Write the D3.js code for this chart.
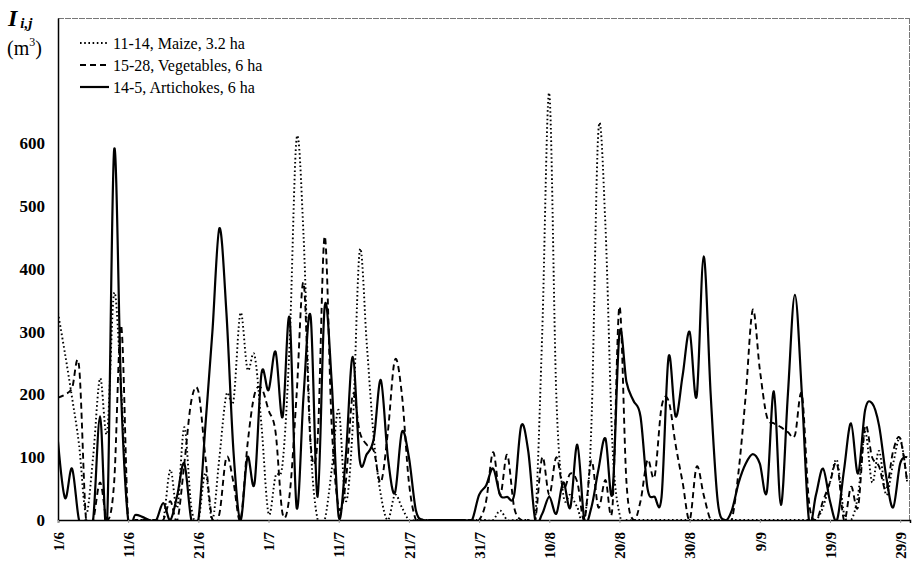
<!DOCTYPE html>
<html>
<head>
<meta charset="utf-8">
<script src="https://cdn.jsdelivr.net/npm/d3@7"></script>
<style>
  body { margin: 0; background: #fff; }
</style>
</head>
<body>
<div id="my_dataviz"></div>
<script>
// date labels every 10 days, first day is 1/6
const tickLabels = ["1/6", "11/6", "21/6", "1/7", "11/7", "21/7", "31/7", "10/8", "20/8", "30/8", "9/9", "19/9", "29/9"];
const yTicks = [0, 100, 200, 300, 400, 500, 600];

// daily volumes (m3), 1/6 .. 30/9
const maize = [
  330, 265, 195, 120, 10, 100, 226, 139, 362, 207,
  0, 0, 0, 0, 0, 0, 80, 20, 148, 20,
  0, 75, 0, 100, 200, 190, 330, 240, 263, 150,
  10, 70, 90, 280, 608, 450, 120, 0, 0, 80,
  175, 30, 150, 430, 280, 130, 40, 0, 40, 20,
  0, 0, 0, 0, 0, 0, 0, 0, 0, 0,
  0, 0, 0, 15, 0, 0, 0, 0, 0, 300,
  680, 200, 40, 40, 20, 0, 150, 620, 470, 120,
  10, 0, 0, 0, 0, 0, 0, 0, 0, 0,
  0, 0, 0, 0, 0, 0, 0, 0, 0, 0,
  0, 0, 0, 0, 0, 0, 0, 0, 0, 20,
  60, 95, 10, 0, 40, 140, 60, 110, 40, 90,
  130, 60
];
const vegetables = [
  195, 200, 210, 245, 0, 0, 60, 0, 60, 310,
  0, 0, 0, 0, 0, 0, 30, 0, 90, 190,
  205, 100, 0, 10, 100, 60, 0, 120, 200, 210,
  175, 140, 10, 40, 200, 378, 120, 130, 452, 150,
  20, 60, 200, 140, 120, 110, 60, 140, 255, 200,
  60, 0, 0, 0, 0, 0, 0, 0, 0, 0,
  0, 30, 108, 40, 104, 20, 0, 0, 0, 100,
  40, 100, 50, 74, 60, 0, 95, 20, 64, 20,
  340, 60, 0, 30, 96, 69, 180, 190, 120, 60,
  0, 85, 40, 0, 0, 0, 0, 80, 200, 335,
  240, 165, 154, 148, 140, 135, 200, 30, 0, 30,
  60, 90, 0, 53, 21, 149, 100, 85, 48, 110,
  130, 60
];
const artichokes = [
  125, 35, 82, 0, 0, 0, 165, 0, 590, 200,
  0, 8, 5, 0, 0, 27, 0, 40, 90, 0,
  0, 150, 300, 465, 330, 110, 0, 100, 58, 234,
  207, 268, 164, 322, 20, 200, 324, 37, 340, 220,
  5, 100, 260, 95, 105, 130, 223, 100, 43, 140,
  100, 15, 0, 0, 0, 0, 0, 0, 0, 0,
  40, 55, 82, 40, 37, 40, 150, 110, 0, 10,
  37, 10, 60, 20, 120, 0, 20, 80, 130, 43,
  298, 220, 190, 165, 50, 37, 37, 260, 165, 230,
  300, 197, 420, 200, 30, 0, 15, 60, 90, 105,
  90, 45, 205, 24, 200, 359, 200, 0, 40, 82,
  30, 0, 80, 154, 74, 175, 186, 150, 70, 20,
  90, 100
];

const series = [
  { name: "11-14, Maize, 3.2 ha", values: maize, dash: "1.6,2.6", width: 1.9 },
  { name: "15-28, Vegetables, 6 ha", values: vegetables, dash: "6,4", width: 1.9 },
  { name: "14-5, Artichokes, 6 ha", values: artichokes, dash: null, width: 2.2 }
];

const FONT = "'Liberation Serif', 'Times New Roman', 'DejaVu Serif', serif";
const width = 912, height = 567;
const margin = { left: 58, right: 910, top: 18, bottom: 520 };

const svg = d3.select("#my_dataviz")
  .append("svg")
  .attr("width", width)
  .attr("height", height)
  .style("font-family", FONT);

const x = d3.scaleLinear().domain([0, 121.4]).range([margin.left, margin.right]);
const y = d3.scaleLinear().domain([0, 800]).range([margin.bottom, margin.top]);

// clip so smoothed curves don't go under 0
svg.append("clipPath").attr("id", "plotclip")
  .append("rect")
  .attr("x", margin.left).attr("y", margin.top)
  .attr("width", margin.right - margin.left).attr("height", margin.bottom - margin.top);

// frame (top/right are light in the scan)
svg.append("line")
  .attr("x1", margin.left).attr("x2", margin.right)
  .attr("y1", margin.top + 0.5).attr("y2", margin.top + 0.5)
  .attr("stroke", "#777").attr("stroke-width", 1).attr("stroke-dasharray", "6,1");
svg.append("line")
  .attr("x1", margin.right - 0.5).attr("x2", margin.right - 0.5)
  .attr("y1", margin.top).attr("y2", margin.bottom)
  .attr("stroke", "#777").attr("stroke-width", 1).attr("stroke-dasharray", "6,1");

// LINES
const line = d3.line()
  .x((d, i) => x(i))
  .y(d => y(d))
  .curve(d3.curveCardinal.tension(0));

const plot = svg.append("g").attr("clip-path", "url(#plotclip)");
series.forEach(s => {
  plot.append("path")
    .datum(s.values)
    .attr("fill", "none")
    .attr("stroke", "#000")
    .attr("stroke-width", s.width)
    .attr("stroke-dasharray", s.dash)
    .attr("stroke-linejoin", "round")
    .attr("d", line);
});

// Y AXIS
const yAxis = svg.append("g")
  .attr("transform", `translate(${margin.left},0)`)
  .call(d3.axisLeft(y).tickValues(yTicks).tickSize(0).tickPadding(13).tickFormat(d3.format("d")));
yAxis.attr("font-family", null);
yAxis.select(".domain").attr("stroke", "#000").attr("stroke-width", 1.5);
yAxis.selectAll("text")
  .attr("fill", "#000")
  .style("font-family", FONT)
  .style("font-size", "17px")
  .style("font-weight", "bold");

// X AXIS
const xAxis = svg.append("g")
  .attr("transform", `translate(0,${margin.bottom})`)
  .call(d3.axisBottom(x)
    .tickValues(d3.range(0, 121, 10))
    .tickSize(3)
    .tickFormat((d, i) => tickLabels[i]));
xAxis.attr("font-family", null);
xAxis.select(".domain").attr("stroke", "#000").attr("stroke-width", 1.5);
xAxis.selectAll(".tick line").attr("stroke", "#999");
xAxis.selectAll("text")
  .attr("fill", "#000")
  .attr("transform", "rotate(-90)")
  .attr("x", -12)
  .attr("y", 0)
  .attr("dy", "0.35em")
  .attr("text-anchor", "end")
  .style("font-family", FONT)
  .style("font-size", "15px")
  .style("font-weight", "bold");

// Y TITLE
const title = svg.append("text").attr("x", 8).attr("y", 26)
  .style("font-family", FONT)
  .style("font-weight", "bold").style("font-style", "italic");
title.append("tspan").style("font-size", "24px").text("I");
title.append("tspan").attr("dx", 3).attr("dy", 2).style("font-size", "15px").text("i,j");

const unit = svg.append("text").attr("x", 7).attr("y", 55)
  .style("font-family", FONT).style("font-size", "20px");
unit.append("tspan").text("(m");
unit.append("tspan").attr("dy", -9).style("font-size", "12px").text("3");
unit.append("tspan").attr("dy", 9).text(")");

// LEGEND
const legend = svg.append("g").attr("class", "legend");
series.forEach((s, i) => {
  const ly = 43 + i * 22;
  legend.append("line")
    .attr("x1", 80).attr("x2", 109)
    .attr("y1", ly).attr("y2", ly)
    .attr("stroke", "#000")
    .attr("stroke-width", s.width)
    .attr("stroke-dasharray", s.dash);
  legend.append("text")
    .attr("x", 113).attr("y", ly)
    .attr("dy", "0.35em")
    .style("font-family", FONT)
    .style("font-size", "16px")
    .text(s.name);
});
</script>
</body>
</html>
